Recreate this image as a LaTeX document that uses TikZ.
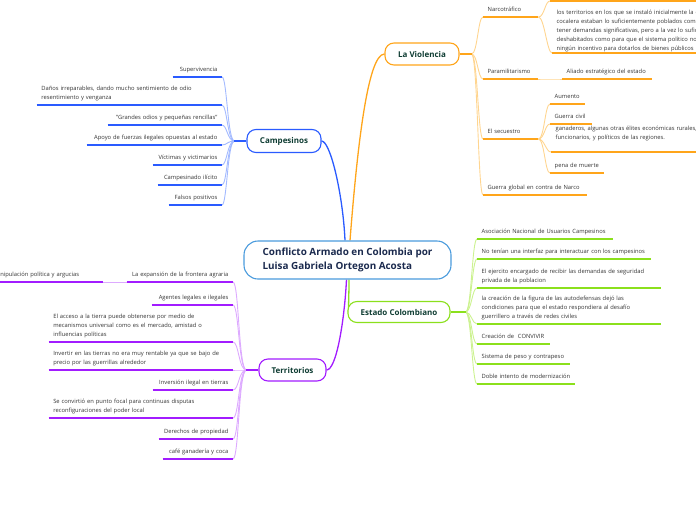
\documentclass[tikz,border=0pt]{standalone}
\usepackage{fontspec}
\setmainfont{Open Sans}
\usetikzlibrary{backgrounds}
\definecolor{txt}{HTML}{333333}
\definecolor{toptxt}{HTML}{0F3D33}
\definecolor{roottxt}{HTML}{1B2A4E}
\definecolor{rootline}{HTML}{4A9BDD}
\definecolor{orangeA}{HTML}{FFA51A}
\definecolor{orangeB}{HTML}{FFD590}
\definecolor{blueA}{HTML}{2A5BFF}
\definecolor{blueB}{HTML}{A3BAFF}
\definecolor{purpA}{HTML}{A21CFF}
\definecolor{purpB}{HTML}{DDAAFF}
\definecolor{greenA}{HTML}{8BE01C}
\definecolor{greenB}{HTML}{CCF290}
\begin{document}
\begin{tikzpicture}[x=1pt,y=-1pt,
    leaf/.style={font=\fontsize{5.8}{9}\selectfont,text=txt,inner xsep=4.5pt,inner ysep=3pt,
      execute at end node={\rule[-2pt]{0pt}{2pt}}},
    leafR/.style={leaf,anchor=south west,align=left},
    leafL/.style={leaf,anchor=south east,align=right},
    topic/.style={draw=#1,fill=white,line width=1.1pt,rounded corners=9pt,text=toptxt,
      font=\fontsize{8}{9}\selectfont\bfseries,inner sep=0pt},
    uline/.style={line width=1.3pt,#1},
    fork/.style={line width=0.9pt,#1},
    branch/.style={line width=1.3pt,#1}]
  \useasboundingbox (0,0) rectangle (696,520);

  % centre and main topics
  \node[draw=rootline,line width=1.1pt,fill=white,rounded corners=14pt,minimum width=207pt,
    minimum height=38pt,align=left,text=roottxt,font=\fontsize{9.9}{14}\selectfont\bfseries]
    (root) at (347.5,260) {Conflicto Armado en Colombia por\\Luisa Gabriela Ortegon Acosta};
  \node[topic=orangeA,minimum width=74pt,minimum height=22pt] (viol) at (422,54) {La Violencia};
  \node[topic=blueA,minimum width=74pt,minimum height=23pt] (camp) at (284,141) {Campesinos};
  \node[topic=purpA,minimum width=67pt,minimum height=22pt] (terr) at (292.5,370) {Territorios};
  \node[topic=greenA,minimum width=102pt,minimum height=21pt] (est) at (399,312) {Estado Colombiano};

  \coordinate (vfk) at ([xshift=12pt]viol.east);
  \coordinate (cfk) at ([xshift=-12pt]camp.west);
  \coordinate (tfk) at ([xshift=-12pt]terr.west);
  \coordinate (efk) at ([xshift=15pt]est.east);

  % La Violencia
  \node[leafR,text width=46pt] (narco) at (483,17) {Narcotráfico};
  \node[leafR,text width=46pt] (para) at (483,79) {Paramilitarismo};
  \node[leafR,text width=46pt] (secu) at (483,139) {El secuestro};
  \node[leafR,text width=95pt] (gglob) at (483,195) {Guerra global en contra de Narco};
  \coordinate (ntop) at (550,1);
  \node[leafR,text width=230pt,inner ysep=0.5pt] (ncoca) at (552,53) {los territorios en los que se instaló inicialmente la economía\\
    cocalera estaban lo suficientemente poblados como para\\
    tener demandas significativas, pero a la vez lo suficientemente\\
    deshabitados como para que el sistema político no tuviera\\
    ningún incentivo para dotarlos de bienes públicos};
  \node[leafR,text width=81pt] (aliado) at (562,79) {Aliado estratégico del estado};
  \node[leafR,text width=26pt] (aumento) at (550,104) {Aumento};
  \node[leafR,text width=33pt] (gcivil) at (550,124) {Guerra civil};
  \node[leafR,text width=200pt,execute at end node={\rule[-9.5pt]{0pt}{9.5pt}}] (ganad) at (551,152)
    {ganaderos, algunas otras élites económicas rurales,\\
    funcionarios, y políticos de las regiones.};
  \node[leafR,text width=45pt] (pena) at (550,173) {pena de muerte};

  % Campesinos
  \node[leafL,text width=40pt] (superv) at (222,77) {Supervivencia};
  \node[leafL,align=left,text width=176pt] (danos) at (222,105) {Daños irreparables, dando mucho sentimiento de odio\\
    resentimiento y venganza};
  \node[leafL,text width=105pt] (grandes) at (222,125) {"Grandes odios y pequeñas rencillas"};
  \node[leafL,text width=126pt] (apoyo) at (222,145) {Apoyo de fuerzas ilegales opuestas al estado};
  \node[leafL,text width=60pt] (victimas) at (222,165) {Víctimas y victimarios};
  \node[leafL,text width=55pt] (campil) at (222,185) {Campesinado ilícito};
  \node[leafL,text width=44pt] (falsos) at (222,205) {Falsos positivos};

  % Territorios
  \node[leafL,text width=97pt] (expan) at (233,282) {La expansión de la frontera agraria};
  \node[leafL,align=left,text width=106.5pt] (manip) at (103,282) {Manipulación política y argucias};
  \node[leafL,text width=72pt] (agentes) at (233,305) {Agentes legales e ilegales};
  \node[leafL,align=left,text width=175pt] (acceso) at (233,342) {El acceso a la tierra puede obtenerse por medio de\\
    mecanismos universal como es el mercado, amistad o\\
    influencias políticas};
  \node[leafL,align=left,text width=175pt] (invertir) at (233,370) {Invertir en las tierras no era muy rentable ya que se bajo de\\
    precio por las guerrillas alrededor};
  \node[leafL,text width=71pt] (invil) at (233,390) {Inversión ilegal en tierras};
  \node[leafL,align=left,text width=175pt] (convirtio) at (233,418) {Se convirtió en punto focal para continuas disputas\\
    reconfiguraciones del poder local};
  \node[leafL,text width=65pt] (derechos) at (233,439) {Derechos de propiedad};
  \node[leafL,text width=61pt] (cafe) at (233,459) {café ganadería y coca};

  % Estado Colombiano
  \node[leafR,text width=127pt] (anuc) at (477,239) {Asociación Nacional de Usuarios Campesinos};
  \node[leafR,text width=165pt] (interfaz) at (477,259) {No tenían una interfaz para interactuar con los campesinos};
  \node[leafR,text width=175pt] (ejercito) at (477,288) {El ejercito encargado de recibir las demandas de seguridad\\
    privada de la poblacion};
  \node[leafR,text width=175pt] (autodef) at (477,324) {la creación de la figura de las autodefensas dejó las\\
    condiciones para que el estado respondiera al desafío\\
    guerrillero a través de redes civiles};
  \node[leafR,text width=64pt] (convivir) at (477,344) {Creación de~ CONVIVIR};
  \node[leafR,text width=84pt] (sistema) at (477,364) {Sistema de peso y contrapeso};
  \node[leafR,text width=89pt] (doble) at (477,384) {Doble intento de modernización};

  % connectors
  \begin{scope}[on background layer]
    \draw[branch=orangeA] ([xshift=2.5pt]root.north) .. controls +(7,-90) and +(-17,0) .. (viol.west);
    \draw[branch=blueA] ([xshift=-2.5pt]root.north) .. controls +(-2,-45) and +(9,0) .. (camp.east);
    \draw[branch=purpA] ([xshift=-1pt]root.south) .. controls +(-2,40) and +(10,0) .. (terr.east);
    \draw[branch=greenA] ([xshift=1.5pt]root.south) .. controls +(0,15) and +(0,-8) .. ([xshift=1pt]est.west);
    \foreach \n in {narco,para,secu,gglob}
      \draw[fork=orangeB] (vfk) .. controls +(6,0) and +(-5,0) .. (\n.south west);
    \draw[fork=orangeB] (narco.south east) .. controls +(6,0) and +(-5,0) .. (ntop);
    \draw[fork=orangeB] (narco.south east) .. controls +(6,0) and +(-5,0) .. (ncoca.south west);
    \draw[fork=orangeB] (para.south east) .. controls +(10,0) and +(-10,0) .. (aliado.south west);
    \foreach \n in {aumento,gcivil,ganad,pena}
      \draw[fork=orangeB] (secu.south east) .. controls +(6,0) and +(-5,0) .. (\n.south west);
    \foreach \n in {superv,danos,grandes,apoyo,victimas,campil,falsos}
      \draw[fork=blueB] (cfk) .. controls +(-7,0) and +(5,0) .. (\n.south east);
    \foreach \n in {expan,agentes,acceso,invertir,invil,convirtio,derechos,cafe}
      \draw[fork=purpB] (tfk) .. controls +(-8,0) and +(6,0) .. (\n.south east);
    \draw[fork=purpB] (expan.south west) -- (manip.south east);
    \foreach \n in {anuc,interfaz,ejercito,autodef,convivir,sistema,doble}
      \draw[fork=greenB] (efk) .. controls +(6,0) and +(-5,0) .. (\n.south west);
  \end{scope}

  \draw[branch=orangeA] (viol.east) -- (vfk);
  \draw[branch=blueA] (camp.west) -- (cfk);
  \draw[branch=purpA] (terr.west) -- (tfk);
  \draw[branch=greenA] (est.east) -- (efk);

  % underlines
  \foreach \n in {narco,para,secu,gglob,ncoca,aliado,aumento,gcivil,ganad,pena}
    \draw[uline=orangeA] (\n.south west) -- (\n.south east);
  \draw[uline=orangeA] (ntop) -- ++(160,0);
  \foreach \n in {superv,danos,grandes,apoyo,victimas,campil,falsos}
    \draw[uline=blueA] (\n.south west) -- (\n.south east);
  \foreach \n in {expan,manip,agentes,acceso,invertir,invil,convirtio,derechos,cafe}
    \draw[uline=purpA] (\n.south west) -- (\n.south east);
  \foreach \n in {anuc,interfaz,ejercito,autodef,convivir,sistema,doble}
    \draw[uline=greenA] (\n.south west) -- (\n.south east);
\end{tikzpicture}
\end{document}
